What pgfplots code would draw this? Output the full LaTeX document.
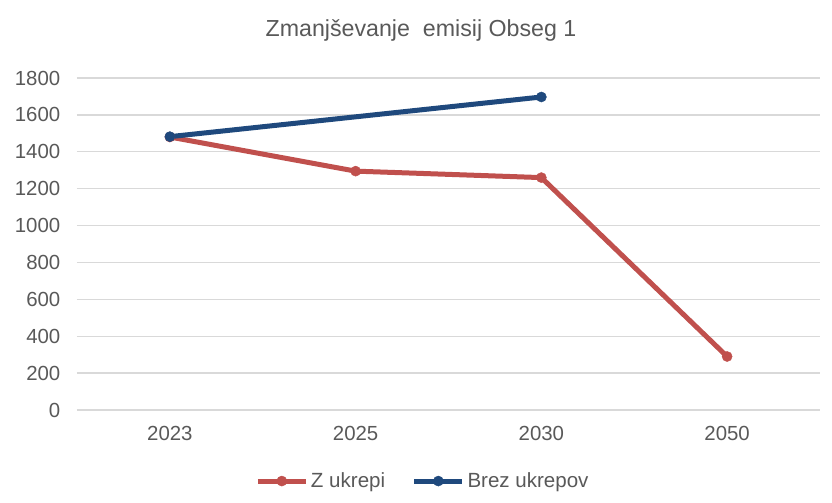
\documentclass[border=0pt]{standalone}
\usepackage{fontspec}
\setmainfont{Liberation Sans}
\usepackage{pgfplots}
\pgfplotsset{compat=1.18}
\definecolor{ered}{HTML}{C0504D}
\definecolor{eblue}{HTML}{1F497D}
\definecolor{egrid}{HTML}{D9D9D9}
\definecolor{etext}{HTML}{595959}
\begin{document}
\begin{tikzpicture}
\path[use as bounding box] (-57.75pt,-69.75pt) rectangle (566.25pt,307.5pt);
\begin{axis}[
  at={(0,0)}, anchor=south west,
  scale only axis,
  width=557.25pt, height=249pt,
  xmin=-0.5, xmax=3.5,
  ymin=0, ymax=1800,
  xtick={0,1,2,3},
  xticklabels={2023,2025,2030,2050},
  ytick={0,200,...,1800},
  axis line style={draw=none},
  major tick length=0pt,
  ymajorgrids, grid style={egrid, line width=1pt},
  tick label style={font=\fontsize{15.3}{18}\selectfont, text=etext},
  /pgf/number format/assume math mode=true,
  /pgf/number format/1000 sep={},
  yticklabel style={xshift=-9pt},
  xticklabel style={yshift=-9pt},
  title={Zmanjševanje\ \ emisij Obseg 1},
  title style={at={(axis description cs:0.463,1.1205)}, anchor=center, font=\fontsize{17.4}{20}\selectfont, text=etext},
  legend style={at={(axis description cs:0.466,-0.214)}, anchor=center, draw=none,
    font=\fontsize{15.4}{18}\selectfont, text=etext, legend columns=2,
    /tikz/every even column/.append style={column sep=18pt}},
  legend image code/.code={\draw[mark repeat=2,mark phase=2] plot coordinates {(0pt,0pt)(18pt,0pt)(36pt,0pt)};},
  clip=false,
]
\addplot[ered, line width=3.75pt, mark=*, mark size=3.8pt, mark options={solid, line width=0.3pt}] coordinates {(0,1480) (1,1295) (2,1260) (3,290)};
\addlegendentry{Z ukrepi}
\addplot[eblue, line width=3.75pt, mark=*, mark size=3.8pt, mark options={solid, line width=0.3pt}] coordinates {(0,1482) (2,1697)};
\addlegendentry{Brez ukrepov}
\end{axis}
\end{tikzpicture}
\end{document}
